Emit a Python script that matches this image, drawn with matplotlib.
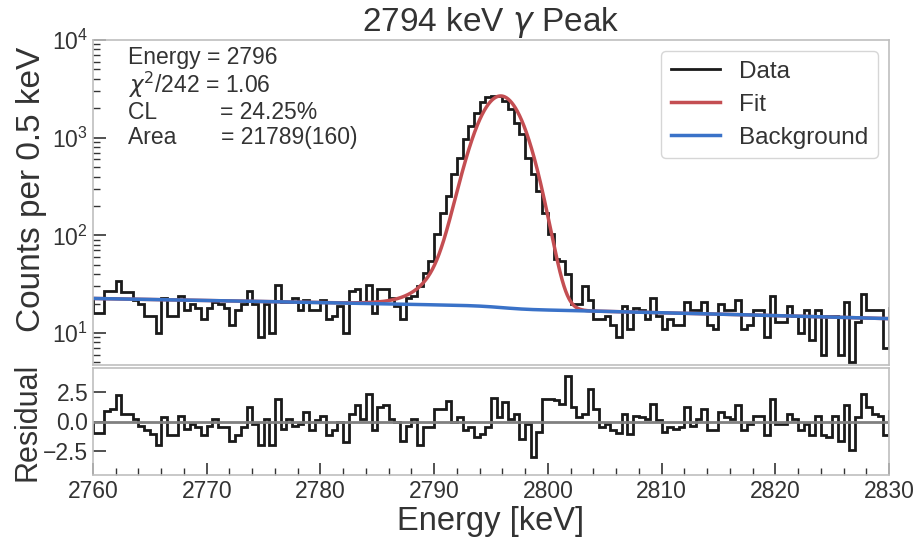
import math
import numpy as np
import matplotlib
matplotlib.use("Agg")
import matplotlib.pyplot as plt

plt.rcParams['font.family'] = ['Liberation Sans', 'DejaVu Sans']
plt.rcParams['mathtext.fontset'] = 'dejavusans'
plt.rcParams['text.color'] = '.2'
plt.rcParams['axes.labelcolor'] = '.2'
plt.rcParams['xtick.color'] = '.2'
plt.rcParams['ytick.color'] = '.2'

# histogram, 0.5 keV bins starting at 2759.5 keV (one bin either side of the view)
bin_width = 0.5
first_edge = 2759.5
counts = [22,
          16, 16, 27, 27, 34, 26, 26, 22, 20, 15,
          15, 10, 23, 15, 15, 24, 17, 20, 18, 14,
          18, 21, 20, 18, 12, 17, 20, 27, 20, 9,
          20, 10, 31, 21, 21, 23, 17, 22, 17, 17,
          22, 14, 15, 19, 10, 27, 28, 21, 31, 16,
          28, 28, 23, 19, 14, 23, 24, 30, 41, 55,
          102, 170, 253, 421, 623, 964, 1316, 1801, 2295, 2580,
          2680, 2680, 2390, 1955, 1424, 1082, 623, 421, 284, 170,
          102, 57, 54, 40, 20, 20, 30, 22, 14, 14,
          15, 12, 9, 19, 11, 18, 17, 14, 23, 15,
          11, 14, 12, 12, 21, 17, 17, 21, 12, 11,
          20, 17, 17, 22, 11, 12, 17, 17, 9, 24,
          13, 13, 19, 15, 10, 17, 8.5, 17, 6, 15,
          15, 6, 21, 5, 13, 25, 17, 17, 17, 7,
          18]
residuals = [0.0,
             -1.0, -1.0, 0.9, 1.05, 2.2, 0.65, 0.65, 0.2, -0.35, -0.75,
             -1.05, -2.0, 0.35, -1.15, -1.15, 0.5, -0.6, -0.2, -0.45, -1.15,
             -0.35, 0.2, -0.45, -0.45, -1.6, -1.15, -0.45, 1.2, -0.2, -2.0,
             0.2, -2.0, 1.9, -0.6, 0.2, -0.35, -0.2, 0.8, -0.75, 0.1,
             0.5, -1.15, -0.75, -0.05, -1.7, 0.65, 1.35, 0.2, 2.3, -0.75,
             1.2, 1.35, 0.2, -0.05, -1.6, -0.35, 0.2, -2.0, -0.45, -0.45,
             1.05, 1.05, 1.75, -0.05, 0.35, -0.75, -0.45, -1.3, -1.05, -0.45,
             2.0, 0.35, 1.6, 0.2, 0.65, -1.45, -0.2, -3.0, -0.9, 1.9,
             1.9, 1.85, 1.45, 3.8, 1.2, 0.35, 0.65, 2.7, 1.05, -0.45,
             -0.2, -0.75, -1.0, 0.65, -1.05, 0.5, 0.35, 0.2, 1.45, 0.1,
             -0.9, -0.45, -0.6, -0.45, 1.2, -0.35, 0.2, 1.05, -0.75, -0.75,
             0.8, 0.35, 0.2, 1.35, -0.75, -0.2, 0.5, 0.5, -1.15, 1.9,
             -0.2, -0.2, 0.65, 0.2, -0.75, -0.2, -1.15, 0.5, -1.15, -1.3,
             0.5, -1.6, 1.35, -2.4, 0.35, 2.3, 1.2, 0.65, 0.5, -1.15,
             0.9]

# fit result (gaussian + low-energy tail on a stepped linear background)
centroid = 2795.9
sigma = 1.7
gauss_height = 2500
tail_height = 600
tail_beta = 1.5
bkg_const = 17.6
bkg_slope = -0.105
bkg_step = 1.2

info_lines = ['Energy = 2796',
              r'$\chi^2$/242 = 1.06',
              'CL          = 24.25%',
              'Area       = 21789(160)']
info_y = [0.945, 0.862, 0.778, 0.70]

edges = first_edge + bin_width * np.arange(len(counts) + 1)

erfc = np.vectorize(math.erfc)
xf = np.linspace(2759, 2831, 3000)
u = (xf - centroid) / (np.sqrt(2) * sigma)
background = bkg_const + bkg_slope * (xf - centroid) + bkg_step * 0.5 * erfc(u)
gauss = gauss_height * np.exp(-u ** 2)
tail = tail_height * np.exp((xf - centroid) / tail_beta) * erfc(u + sigma / (np.sqrt(2) * tail_beta))
fit = background + gauss + tail

W, H = 917, 539
fig = plt.figure(figsize=(W / 100, H / 100), dpi=100)
ax1 = fig.add_axes([93 / W, 1 - 365 / H, 796 / W, 325 / H])
ax2 = fig.add_axes([93 / W, 1 - 475 / H, 796 / W, 107 / H], sharex=ax1)

ax1.stairs(counts, edges, baseline=None, color='#1a1a1a', lw=2, label='Data')
ax1.plot(xf, fit, color='#c44e52', lw=2.5, label='Fit')
ax1.plot(xf, background, color='#3a72c8', lw=2.5, label='Background')
ax1.set_yscale('log')
ax1.set_ylim(4.7, 1e4)
ax1.set_xlim(2760, 2830)
ax1.set_ylabel('Counts per 0.5 keV', fontsize=24)
ax1.set_title(r'2794 keV $\gamma$ Peak', fontsize=24, pad=5)
ax1.tick_params(axis='x', which='both', bottom=False, labelbottom=False)
ax1.tick_params(axis='y', which='major', direction='in', length=9, width=1.2, labelsize=16.5)
ax1.tick_params(axis='y', which='minor', direction='in', length=5, width=1.0)
for line, yy in zip(info_lines, info_y):
    ax1.text(0.044, yy, line, transform=ax1.transAxes, va='center', ha='left', fontsize=16.5)
leg = ax1.legend(loc='upper right', fontsize=17.5, frameon=True, fancybox=True,
                 borderaxespad=0.45, labelspacing=0.45)
leg.get_frame().set_edgecolor('0.8')

ax2.axhline(0, color='gray', lw=2)
ax2.stairs(residuals, edges, baseline=None, color='#1a1a1a', lw=2)
ax2.set_ylim(-4.5, 4.5)
ax2.set_yticks([-2.5, 0.0, 2.5])
ax2.set_xticks(np.arange(2760, 2831, 10))
ax2.set_xticks(np.arange(2760, 2831, 2), minor=True)
ax2.set_xlabel('Energy [keV]', fontsize=23.5, labelpad=2)
ax2.set_ylabel('Residual', fontsize=22)
ax2.tick_params(which='major', direction='in', length=9, width=1.2, labelsize=16.5)
ax2.tick_params(which='minor', direction='in', length=5, width=1.0)

for ax in (ax1, ax2):
    for sp in ax.spines.values():
        sp.set_color('0.75')
        sp.set_linewidth(1.2)

ax1.yaxis.set_label_coords(-0.058, 0.54)
ax2.yaxis.set_label_coords(-0.064, 0.5)

fig.savefig('out.png', dpi=100)
